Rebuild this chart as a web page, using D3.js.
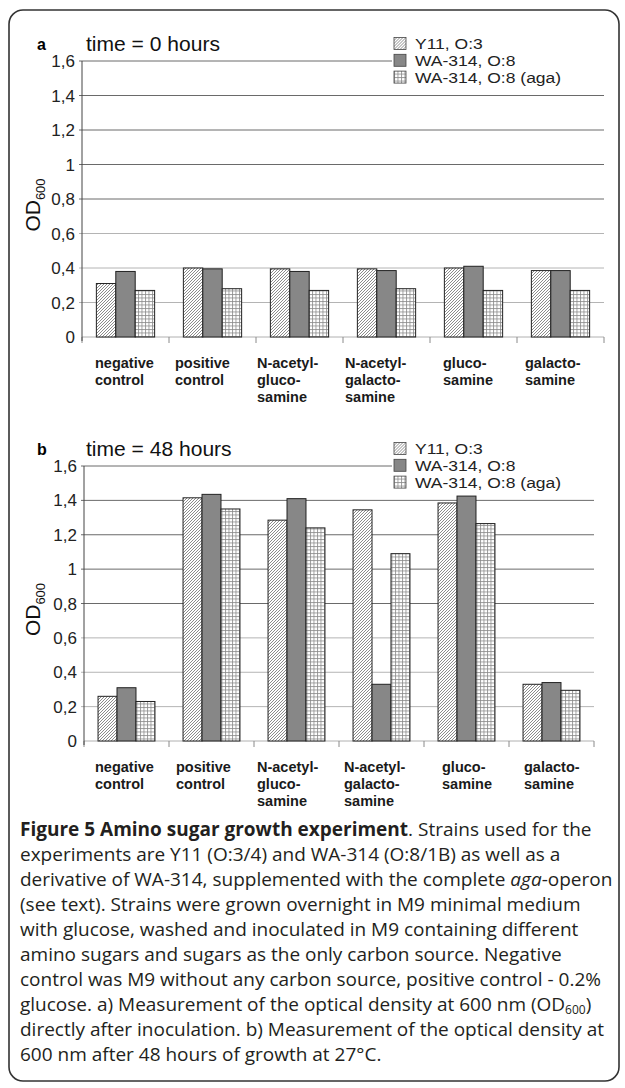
<!DOCTYPE html>
<html>
<head>
<meta charset="utf-8">
<script src="https://cdn.jsdelivr.net/npm/d3@7/dist/d3.min.js"></script>
<style>
  body { margin: 0; background: #fff; }
  svg text { font-family: "Liberation Sans", Arial, sans-serif; }
  svg text.cap { font-family: "Open Sans", sans-serif; }
</style>
</head>
<body>
<svg id="fig" width="625" height="1088"></svg>
<script>
// ---- data ----
const categories = ["negative control", "positive control", "N-acetyl-glucosamine",
  "N-acetyl-galactosamine", "glucosamine", "galactosamine"];
const categoryLines = [["negative", "control"], ["positive", "control"],
  ["N-acetyl-", "gluco-", "samine"], ["N-acetyl-", "galacto-", "samine"],
  ["gluco-", "samine"], ["galacto-", "samine"]];
const series = ["Y11, O:3", "WA-314, O:8", "WA-314, O:8 (aga)"];
const yTicks = [0, 0.2, 0.4, 0.6, 0.8, 1, 1.2, 1.4, 1.6];

// OD600 per category, in series order
const od0h = [[0.31, 0.38, 0.27], [0.40, 0.395, 0.28], [0.395, 0.38, 0.27],
  [0.395, 0.385, 0.28], [0.40, 0.41, 0.27], [0.385, 0.385, 0.27]];
const od48h = [[0.26, 0.31, 0.23], [1.415, 1.435, 1.35], [1.285, 1.41, 1.24],
  [1.345, 0.33, 1.09], [1.385, 1.425, 1.265], [0.33, 0.34, 0.295]];

const captionLines = [
  [["Figure 5 Amino sugar growth experiment", "b"], [". Strains used for the"]],
  [["experiments are Y11 (O:3/4) and WA-314 (O:8/1B) as well as a"]],
  [["derivative of WA-314, supplemented with the complete "], ["aga", "i"], ["-operon"]],
  [["(see text). Strains were grown overnight in M9 minimal medium"]],
  [["with glucose, washed and inoculated in M9 containing different"]],
  [["amino sugars and sugars as the only carbon source. Negative"]],
  [["control was M9 without any carbon source, positive control - 0.2%"]],
  [["glucose. a) Measurement of the optical density at 600 nm (OD"], ["600", "sub"], [")", "up"]],
  [["directly after inoculation. b) Measurement of the optical density at"]],
  [["600 nm after 48 hours of growth at 27\u00b0C."]]
];

const panels = [
  { letter: "a", title: "time = 0 hours", values: od0h, left: 82, right: 604, top: 61, bottom: 337,
    labelDx: [13, 6, 1, 2, 13, 8] },
  { letter: "b", title: "time = 48 hours", values: od48h, left: 84, right: 594, top: 466, bottom: 741,
    labelDx: [11, 7, 3, 5, 18, 15] }
];

const svg = d3.select("#fig");

// patterns
const defs = svg.append("defs");
const hatch = defs.append("pattern").attr("id", "hatch")
  .attr("patternUnits", "userSpaceOnUse").attr("width", 3).attr("height", 3);
hatch.append("rect").attr("width", 3).attr("height", 3).attr("fill", "#fff");
hatch.append("path").attr("d", "M-1,1 l2,-2 M0,3 l3,-3 M2,4 l2,-2")
  .attr("stroke", "#6e6e6e").attr("stroke-width", 0.8);
const grid = defs.append("pattern").attr("id", "grid")
  .attr("patternUnits", "userSpaceOnUse").attr("width", 3.5).attr("height", 3.5);
grid.append("rect").attr("width", 3.5).attr("height", 3.5).attr("fill", "#fff");
grid.append("path").attr("d", "M0,0.5 H3.5 M0.5,0 V3.5")
  .attr("stroke", "#8a8a8a").attr("stroke-width", 0.8);

const fills = ["url(#hatch)", "#878787", "url(#grid)"];
const fmt = d => String(d).replace(".", ",");

// frame
svg.append("rect").attr("x", 9).attr("y", 10).attr("width", 610).attr("height", 1071)
  .attr("rx", 14).attr("fill", "#fff").attr("stroke", "#333").attr("stroke-width", 1.6);

panels.forEach(p => {
  const g = svg.append("g");
  const x0 = d3.scaleBand().domain(categories).range([p.left, p.right]);
  const x1 = d3.scaleBand().domain(series).range([0, x0.bandwidth()]).paddingOuter(0.74);
  const y = d3.scaleLinear().domain([0, 1.6]).range([p.bottom, p.top]);

  // gridlines
  g.append("g").selectAll("line").data(yTicks.filter(d => d > 0)).join("line")
    .attr("x1", p.left - 3).attr("x2", p.right)
    .attr("y1", d => y(d)).attr("y2", d => y(d))
    .attr("stroke", d => d >= 0.8 ? "#6a6a6a" : "#b4b4b4").attr("stroke-width", 1);

  // y tick labels
  g.append("g").selectAll("text").data(yTicks).join("text")
    .attr("x", p.left - 7).attr("y", d => y(d) + 6)
    .attr("text-anchor", "end").attr("font-size", 17).attr("fill", "#222")
    .text(fmt);

  // x axis with ticks at category boundaries
  g.append("line").attr("x1", p.left).attr("x2", p.right)
    .attr("y1", p.bottom).attr("y2", p.bottom).attr("stroke", "#b0b0b0");
  g.append("g").selectAll("line").data(categories.concat([null])).join("line")
    .attr("x1", (d, i) => i < categories.length ? x0(d) : p.right)
    .attr("x2", (d, i) => i < categories.length ? x0(d) : p.right)
    .attr("y1", p.bottom).attr("y2", p.bottom + 6)
    .attr("stroke", "#8a8a8a");

  // bars
  g.append("g").selectAll("g").data(p.values).join("g")
    .attr("transform", (d, i) => `translate(${x0(categories[i])},0)`)
    .selectAll("rect").data(d => d).join("rect")
    .attr("x", (d, j) => x1(series[j])).attr("width", x1.bandwidth())
    .attr("y", d => y(d)).attr("height", d => y(0) - y(d))
    .attr("fill", (d, j) => fills[j]).attr("stroke", "#222").attr("stroke-width", 1);

  // y axis
  g.append("line").attr("x1", p.left).attr("x2", p.left)
    .attr("y1", p.top).attr("y2", p.bottom + 4).attr("stroke", "#444");

  // category labels
  g.append("g").selectAll("text").data(categoryLines).join("text")
    .attr("x", (d, i) => x0(categories[i]) + p.labelDx[i])
    .attr("y", p.bottom + 31)
    .attr("font-size", 14.5).attr("font-weight", "bold").attr("fill", "#1a1a1a")
    .selectAll("tspan").data(d => d).join("tspan")
    .attr("x", function () { return this.parentNode.getAttribute("x"); })
    .attr("dy", (d, k) => k ? 16.8 : 0)
    .text(d => d);

  // axis title
  const oy = (p.top + p.bottom) / 2 + 6;
  const od = g.append("text").attr("transform", `translate(40,${oy}) rotate(-90)`)
    .attr("text-anchor", "middle").attr("font-size", 21).attr("fill", "#111");
  od.append("tspan").text("OD");
  od.append("tspan").attr("font-size", 13).attr("dy", 5).text("600");

  // panel letter and title
  g.append("text").attr("x", 37).attr("y", p.top - 11)
    .attr("font-size", 16).attr("font-weight", "bold").text(p.letter);
  g.append("text").attr("transform", `translate(86,${p.top - 10}) scale(1.08,1)`)
    .attr("font-size", 19.5).attr("fill", "#111").text(p.title);

  // legend (white box hides the top gridline behind it)
  const leg = g.append("g");
  leg.append("rect").attr("x", 392).attr("y", p.top - 28)
    .attr("width", p.right - 390).attr("height", 52).attr("fill", "#fff");
  const rows = leg.selectAll("g").data(series).join("g")
    .attr("transform", (d, i) => `translate(394,${p.top - 17.5 + i * 16.8})`);
  rows.append("rect").attr("x", 0).attr("y", -6).attr("width", 12).attr("height", 12)
    .attr("fill", (d, i) => fills[i]).attr("stroke", "#444").attr("stroke-width", 0.8);
  rows.append("text").attr("transform", "translate(21,5.5) scale(1.13,1)")
    .attr("font-size", 15.5).attr("fill", "#222")
    .text(d => d);
});

// caption
const cap = svg.append("g");
captionLines.forEach((line, i) => {
  const t = cap.append("text").attr("class", "cap")
    .attr("x", 20).attr("y", 836 + i * 25)
    .attr("font-size", 19).attr("fill", "#231f20");
  line.forEach(seg => {
    const s = t.append("tspan").text(seg[0]);
    if (seg[1] === "b") s.attr("font-weight", "bold");
    if (seg[1] === "i") s.attr("font-style", "italic");
    if (seg[1] === "sub") s.attr("font-size", 12).attr("dy", 3);
    if (seg[1] === "up") s.attr("dy", -3);
  });
});
</script>
</body>
</html>
